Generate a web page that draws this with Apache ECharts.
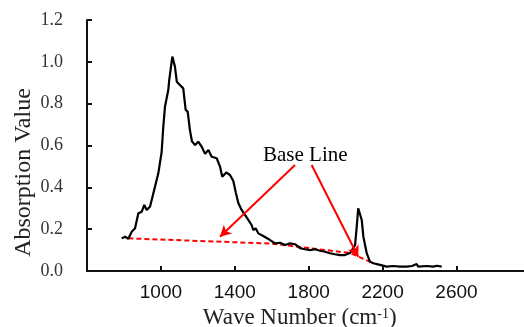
<!DOCTYPE html>
<html>
<head>
<meta charset="utf-8">
<script src="https://cdn.jsdelivr.net/npm/echarts@6/dist/echarts.min.js"></script>
<style>
html,body{margin:0;padding:0;background:#fff;overflow:hidden;}
#chart{width:524px;height:327px;}
</style>
</head>
<body>
<div id="chart"></div>
<script>
// Spectrum data (wave number in cm^-1, absorption value)
var waveNumber = [788, 806, 824, 842, 860, 878, 896, 910, 923, 941, 968, 986, 1004, 1013, 1022, 1031, 1040, 1045, 1062, 1076, 1086, 1103, 1121, 1134, 1145, 1157, 1168, 1185, 1202, 1221, 1239, 1257, 1275, 1302, 1320, 1332, 1354, 1374, 1392, 1406, 1419, 1437, 1455, 1473, 1491, 1500, 1513, 1527, 1536, 1554, 1563, 1591, 1618, 1645, 1672, 1699, 1726, 1753, 1780, 1807, 1834, 1861, 1888, 1915, 1942, 1969, 1996, 2024, 2034, 2051, 2060, 2068, 2078, 2087, 2096, 2114, 2132, 2150, 2186, 2222, 2258, 2294, 2330, 2359, 2384, 2393, 2439, 2474, 2493, 2520];
var absorbance = [0.156, 0.164, 0.154, 0.188, 0.204, 0.276, 0.283, 0.316, 0.292, 0.307, 0.403, 0.467, 0.569, 0.690, 0.785, 0.794, 0.865, 0.913, 1.025, 0.977, 0.905, 0.889, 0.873, 0.770, 0.762, 0.674, 0.620, 0.602, 0.618, 0.594, 0.560, 0.578, 0.546, 0.539, 0.499, 0.451, 0.471, 0.459, 0.430, 0.373, 0.325, 0.292, 0.268, 0.244, 0.220, 0.196, 0.204, 0.180, 0.172, 0.167, 0.163, 0.148, 0.132, 0.135, 0.124, 0.132, 0.128, 0.109, 0.104, 0.100, 0.104, 0.097, 0.092, 0.085, 0.080, 0.076, 0.076, 0.086, 0.091, 0.124, 0.212, 0.300, 0.300, 0.244, 0.164, 0.085, 0.044, 0.037, 0.029, 0.021, 0.024, 0.021, 0.021, 0.024, 0.033, 0.021, 0.024, 0.021, 0.025, 0.021];

// Base line (red dashed)
var baseLineX = [824, 1601, 2024, 2143];
var baseLineY = [0.156, 0.131, 0.086, 0.040];

// Arrows: start and end points
var arrowStarts = [[1726, 0.507], [1816, 0.507]];
var arrowEnds = [[1320, 0.164], [2068, 0.068]];

// Tick labels
var xTickLabels = [1000, 1400, 1800, 2200, 2600];
var yTickLabels = [0, 0.2, 0.4, 0.6, 0.8, 1.0, 1.2];

var annotationText = 'Base Line';

function zip(a, b) { return a.map(function (v, i) { return [v, b[i]]; }); }

var chart = echarts.init(document.getElementById('chart'), null, {renderer: 'canvas'});
var serif = '"Liberation Serif", "Times New Roman", serif';

var option = {
  animation: false,
  backgroundColor: '#ffffff',
  grid: {left: 87, top: 20, width: 443.4, height: 251, containLabel: false, outerBoundsMode: 'none'},
  xAxis: {
    type: 'value', min: 600, max: 3000, interval: 400,
    name: 'Wave Number (cm{sup|-1})',
    nameLocation: 'middle', nameGap: 31,
    nameTextStyle: {
      fontFamily: serif, fontSize: 23, color: '#222', padding: [0, 18, 0, 0],
      rich: {sup: {fontFamily: serif, fontSize: 14, color: '#222', verticalAlign: 'top', padding: [0, 0, 8, 0]}}
    },
    axisLine: {show: true, onZero: false, lineStyle: {color: '#111', width: 2}},
    axisTick: {show: true, inside: true, length: 5, lineStyle: {color: '#111', width: 2}},
    axisLabel: {
      margin: 12, fontFamily: '"Liberation Sans", Arial, sans-serif', fontSize: 19, color: '#111',
      formatter: function (v) { return xTickLabels.indexOf(v) >= 0 ? String(v) : ''; }
    },
    splitLine: {show: false}
  },
  yAxis: {
    type: 'value', min: 0, max: 1.2, interval: 0.2,
    name: 'Absorption Value',
    nameLocation: 'middle', nameGap: 51, nameMoveOverlap: false,
    nameTextStyle: {fontFamily: serif, fontSize: 24, color: '#222', padding: [0, 54, 0, 0]},
    axisLine: {show: true, lineStyle: {color: '#111', width: 2}},
    axisTick: {show: true, inside: true, length: 5, lineStyle: {color: '#111', width: 2}},
    axisLabel: {
      margin: 24, fontFamily: serif, fontSize: 18, color: '#333',
      formatter: function (v) {
        for (var i = 0; i < yTickLabels.length; i++) {
          if (Math.abs(yTickLabels[i] - v) < 1e-6) return yTickLabels[i].toFixed(1);
        }
        return '';
      }
    },
    splitLine: {show: false}
  },
  series: [
    {
      name: 'Base Line', type: 'line', data: zip(baseLineX, baseLineY),
      showSymbol: false, symbol: 'none', z: 2,
      lineStyle: {color: '#ff0000', width: 2, type: [5, 3]}
    },
    {
      name: 'Spectrum', type: 'line', data: zip(waveNumber, absorbance),
      showSymbol: false, symbol: 'none', z: 3,
      lineStyle: {color: '#000000', width: 2.2}
    },
    {
      name: 'Arrows', type: 'line', data: [], z: 4,
      markLine: {
        silent: true, animation: false,
        symbol: ['none', 'arrow'], symbolSize: [9, 11],
        label: {show: false},
        lineStyle: {color: '#ff0000', width: 2, type: 'solid'},
        data: arrowStarts.map(function (s, i) {
          return [{coord: s}, {coord: arrowEnds[i]}];
        })
      }
    }
  ],
  graphic: [
    {
      type: 'text', left: 263, top: 145, z: 10,
      style: {text: annotationText, font: '21px ' + serif, fill: '#000'}
    }
  ]
};
chart.setOption(option);
</script>
</body>
</html>
